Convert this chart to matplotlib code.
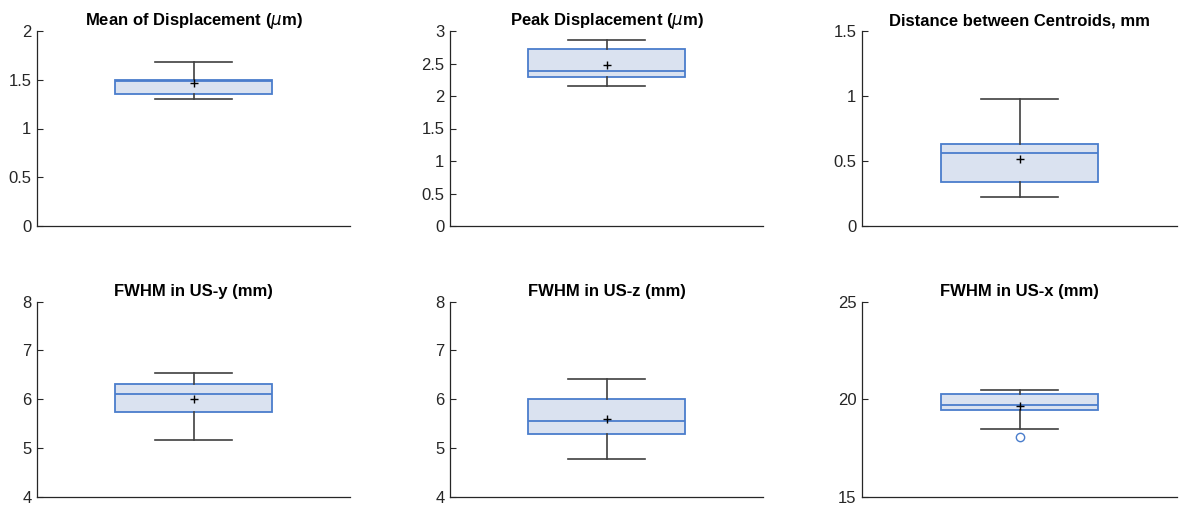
import matplotlib
matplotlib.use("Agg")
import matplotlib.pyplot as plt
from matplotlib.ticker import FuncFormatter, MultipleLocator

plt.rcParams['font.family'] = ['Liberation Sans', 'DejaVu Sans']

titles = [r'Mean of Displacement ($\mu$m)', r'Peak Displacement ($\mu$m)',
          'Distance between Centroids, mm',
          'FWHM in US-y (mm)', 'FWHM in US-z (mm)', 'FWHM in US-x (mm)']
whislo = [1.30, 2.15, 0.22, 5.16, 4.77, 18.45]
q1 = [1.35, 2.30, 0.34, 5.74, 5.29, 19.46]
medians = [1.49, 2.38, 0.56, 6.11, 5.55, 19.72]
q3 = [1.50, 2.73, 0.633, 6.32, 6.01, 20.27]
whishi = [1.68, 2.86, 0.98, 6.54, 6.41, 20.45]
means = [1.47, 2.47, 0.515, 6.01, 5.60, 19.64]
fliers = [[], [], [], [], [], [18.04]]
ylims = [(0, 2), (0, 3), (0, 1.5), (4, 8), (4, 8), (15, 25)]
ysteps = [0.5, 0.5, 0.5, 1, 1, 5]

W, H = 1181, 508
fig = plt.figure(figsize=(W / 100, H / 100), dpi=100)

lefts = [37, 450, 862]
widths = [313, 313, 315]
tops = [31, 301.7]
ah = 195

edge = '#4a7dcc'
fill = '#dae2f0'
dark = '#404040'

fmt = FuncFormatter(lambda v, p: f'{v:g}')

for i in range(6):
    r, c = divmod(i, 3)
    ax = fig.add_axes([lefts[c] / W, 1 - (tops[r] + ah) / H, widths[c] / W, ah / H])
    st = dict(med=medians[i], q1=q1[i], q3=q3[i], whislo=whislo[i], whishi=whishi[i],
              mean=means[i], fliers=fliers[i])
    ax.bxp([st], positions=[1], widths=0.5, capwidths=0.245, patch_artist=True,
           showmeans=True, showfliers=True,
           boxprops=dict(facecolor=fill, edgecolor=edge, linewidth=1.3),
           medianprops=dict(color=edge, linewidth=1.3),
           whiskerprops=dict(color=dark, linewidth=1.2),
           capprops=dict(color=dark, linewidth=1.2),
           meanprops=dict(marker='+', markeredgecolor='black', markersize=5.5, markeredgewidth=1.0),
           flierprops=dict(marker='o', markerfacecolor='none', markeredgecolor=edge,
                           markersize=6, markeredgewidth=1.0))
    ax.set_xlim(0.5, 1.5)
    ax.set_ylim(*ylims[i])
    ax.yaxis.set_major_locator(MultipleLocator(ysteps[i]))
    ax.yaxis.set_major_formatter(fmt)
    ax.set_xticks([])
    for s in ['top', 'right']:
        ax.spines[s].set_visible(False)
    for s in ['left', 'bottom']:
        ax.spines[s].set_color('#262626')
        ax.spines[s].set_linewidth(0.9)
    ax.tick_params(axis='y', direction='in', length=4, width=0.8, colors='#262626',
                   labelsize=12, pad=4)
    ax.set_title(titles[i], fontsize=12, fontweight='bold', pad=4)

fig.savefig('out.png', dpi=100)
